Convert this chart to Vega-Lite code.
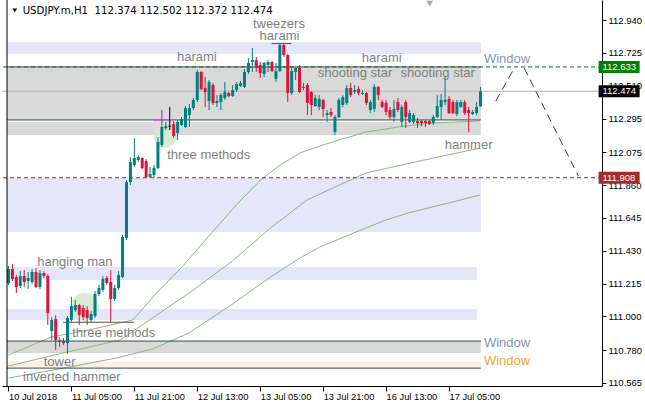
{
"$schema":"https://vega.github.io/schema/vega-lite/v6.json",
"width":600,"height":386,
"autosize":{"type":"none"},
"padding":{"left":2,"top":0,"right":43,"bottom":20},
"background":"#ffffff",
"config":{"view":{"stroke":null},"axis":{"labelOverlap":false,"labelBound":false,"labelFlush":false,"grid":false,"labelSeparation":0}},
"datasets":{
"zones":[
{"x1":-0.375,"x2":120.1,"p1":112.796,"p2":112.718,"k":"lav"},
{"x1":-0.375,"x2":120.1,"p1":112.633,"p2":112.286,"k":"gray"},
{"x1":-0.375,"x2":120.1,"p1":112.273,"p2":112.187,"k":"gray"},
{"x1":-0.375,"x2":120.1,"p1":111.906,"p2":111.553,"k":"lav"},
{"x1":-0.375,"x2":119.1,"p1":111.323,"p2":111.238,"k":"lav"},
{"x1":-0.375,"x2":119.1,"p1":111.049,"p2":110.977,"k":"lav"},
{"x1":-0.375,"x2":120.1,"p1":110.839,"p2":110.761,"k":"gray"},
{"x1":-0.375,"x2":120.1,"p1":110.708,"p2":110.662,"k":"linen"}
],
"blobs":[
{"i":39.4,"p":112.259,"k":"pink"},
{"i":39.9,"p":112.187,"k":"green"},
{"i":19.4,"p":111.062,"k":"green2"}
],
"ma":[
{"m":"a","i":0,"p":110.748},{"m":"a","i":10.9,"p":110.865},{"m":"a","i":21.6,"p":110.918},{"m":"a","i":31.6,"p":110.977},{"m":"a","i":37.9,"p":111.16},{"m":"a","i":44.1,"p":111.323},{"m":"a","i":51.6,"p":111.546},{"m":"a","i":59.1,"p":111.762},{"m":"a","i":64.1,"p":111.893},{"m":"a","i":69.1,"p":111.991},{"m":"a","i":74.1,"p":112.07},{"m":"a","i":79.1,"p":112.115},{"m":"a","i":84.1,"p":112.155},{"m":"a","i":90.9,"p":112.207},{"m":"a","i":99.1,"p":112.24},{"m":"a","i":107.4,"p":112.266},{"m":"a","i":119.9,"p":112.279},
{"m":"b","i":0,"p":110.676},{"m":"b","i":14.9,"p":110.767},{"m":"b","i":28.4,"p":110.846},{"m":"b","i":36.6,"p":110.99},{"m":"b","i":45.9,"p":111.153},{"m":"b","i":56.6,"p":111.356},{"m":"b","i":66.6,"p":111.579},{"m":"b","i":75.9,"p":111.762},{"m":"b","i":84.1,"p":111.86},{"m":"b","i":90.9,"p":111.939},{"m":"b","i":103.4,"p":112.011},{"m":"b","i":119.9,"p":112.102},
{"m":"c","i":0,"p":110.597},{"m":"c","i":14.1,"p":110.662},{"m":"c","i":27.4,"p":110.728},{"m":"c","i":36.6,"p":110.787},{"m":"c","i":45.9,"p":110.892},{"m":"c","i":56.6,"p":111.075},{"m":"c","i":66.6,"p":111.258},{"m":"c","i":74.1,"p":111.382},{"m":"c","i":79.1,"p":111.454},{"m":"c","i":88.4,"p":111.553},{"m":"c","i":95.9,"p":111.631},{"m":"c","i":101.6,"p":111.677},{"m":"c","i":114.9,"p":111.762},{"m":"c","i":119.9,"p":111.795}
],
"hlines":[{"p":112.474,"k":"bid"},{"p":112.633,"k":"ask"},{"p":111.908,"k":"lvl"}],
"segs":[
{"x1":-0.375,"x2":120.1,"p":112.633,"k":"zone"},
{"x1":-0.375,"x2":120.1,"p":112.286,"k":"zone"},
{"x1":-0.375,"x2":120.1,"p":110.839,"k":"zone"},
{"x1":-0.375,"x2":120.1,"p":110.662,"k":"zone"},
{"x1":66.9,"x2":71.9,"p":112.786,"k":"pat"},
{"x1":13.9,"x2":31.9,"p":110.962,"k":"pat"}
],
"proj":[
{"s":"a","i":123.9,"p":112.41},{"s":"a","i":128.6,"p":112.626},
{"s":"b","i":131.1,"p":112.626},{"s":"b","i":144.9,"p":111.919}
],
"candles":[
{"i":0,"o":111.219,"h":111.33,"l":111.206,"c":111.31,"d":"up"},
{"i":1,"o":111.31,"h":111.343,"l":111.232,"c":111.245,"d":"down"},
{"i":2,"o":111.258,"h":111.271,"l":111.153,"c":111.193,"d":"down"},
{"i":3,"o":111.199,"h":111.297,"l":111.186,"c":111.265,"d":"up"},
{"i":4,"o":111.265,"h":111.304,"l":111.193,"c":111.225,"d":"down"},
{"i":5,"o":111.232,"h":111.291,"l":111.18,"c":111.252,"d":"up"},
{"i":6,"o":111.225,"h":111.31,"l":111.212,"c":111.291,"d":"up"},
{"i":7,"o":111.291,"h":111.317,"l":111.186,"c":111.193,"d":"down"},
{"i":8,"o":111.193,"h":111.304,"l":111.18,"c":111.284,"d":"up"},
{"i":9,"o":111.284,"h":111.297,"l":111.252,"c":111.265,"d":"down"},
{"i":10,"o":111.265,"h":111.278,"l":110.944,"c":111.022,"d":"down"},
{"i":11,"o":110.905,"h":110.996,"l":110.846,"c":110.977,"d":"up"},
{"i":12,"o":110.983,"h":111.009,"l":110.78,"c":110.846,"d":"down"},
{"i":13,"o":110.833,"h":110.865,"l":110.8,"c":110.846,"d":"up"},
{"i":14,"o":110.839,"h":110.859,"l":110.813,"c":110.826,"d":"down"},
{"i":15,"o":110.826,"h":111.003,"l":110.754,"c":110.99,"d":"up"},
{"i":16,"o":110.977,"h":111.127,"l":110.964,"c":111.068,"d":"up"},
{"i":17,"o":111.042,"h":111.107,"l":111.029,"c":111.075,"d":"up"},
{"i":18,"o":111.075,"h":111.081,"l":110.944,"c":111.009,"d":"down"},
{"i":19,"o":111.055,"h":111.075,"l":110.977,"c":110.996,"d":"down"},
{"i":20,"o":111.042,"h":111.068,"l":110.944,"c":110.99,"d":"down"},
{"i":21,"o":110.977,"h":111.036,"l":110.964,"c":111.016,"d":"up"},
{"i":22,"o":111.003,"h":111.166,"l":110.99,"c":111.147,"d":"up"},
{"i":23,"o":111.147,"h":111.206,"l":111.134,"c":111.186,"d":"up"},
{"i":24,"o":111.173,"h":111.265,"l":111.16,"c":111.245,"d":"up"},
{"i":25,"o":111.252,"h":111.265,"l":111.206,"c":111.219,"d":"down"},
{"i":26,"o":111.225,"h":111.304,"l":110.964,"c":111.114,"d":"down"},
{"i":27,"o":111.114,"h":111.206,"l":111.101,"c":111.186,"d":"up"},
{"i":28,"o":111.186,"h":111.297,"l":111.173,"c":111.271,"d":"up"},
{"i":29,"o":111.258,"h":111.533,"l":111.252,"c":111.52,"d":"up"},
{"i":30,"o":111.513,"h":111.893,"l":111.5,"c":111.88,"d":"up"},
{"i":31,"o":111.88,"h":112.043,"l":111.86,"c":112.011,"d":"up"},
{"i":32,"o":111.991,"h":112.168,"l":111.978,"c":112.037,"d":"up"},
{"i":33,"o":112.024,"h":112.057,"l":112.011,"c":112.043,"d":"up"},
{"i":34,"o":112.037,"h":112.043,"l":111.965,"c":111.971,"d":"down"},
{"i":35,"o":112.017,"h":112.03,"l":111.906,"c":111.913,"d":"down"},
{"i":36,"o":111.913,"h":111.978,"l":111.906,"c":111.932,"d":"up"},
{"i":37,"o":111.926,"h":111.991,"l":111.906,"c":111.971,"d":"up"},
{"i":38,"o":111.971,"h":112.174,"l":111.965,"c":112.142,"d":"up"},
{"i":39,"o":112.122,"h":112.351,"l":112.109,"c":112.24,"d":"up"},
{"i":40,"o":112.233,"h":112.273,"l":112.22,"c":112.246,"d":"up"},
{"i":41,"o":112.248,"h":112.371,"l":112.22,"c":112.242,"d":"doji"},
{"i":42,"o":112.259,"h":112.279,"l":112.168,"c":112.181,"d":"down"},
{"i":43,"o":112.201,"h":112.286,"l":112.155,"c":112.273,"d":"up"},
{"i":44,"o":112.253,"h":112.305,"l":112.246,"c":112.292,"d":"up"},
{"i":45,"o":112.24,"h":112.377,"l":112.233,"c":112.364,"d":"up"},
{"i":46,"o":112.318,"h":112.39,"l":112.24,"c":112.364,"d":"up"},
{"i":47,"o":112.364,"h":112.43,"l":112.351,"c":112.417,"d":"up"},
{"i":48,"o":112.417,"h":112.613,"l":112.403,"c":112.6,"d":"up"},
{"i":49,"o":112.6,"h":112.606,"l":112.482,"c":112.489,"d":"down"},
{"i":50,"o":112.495,"h":112.567,"l":112.371,"c":112.469,"d":"down"},
{"i":51,"o":112.41,"h":112.547,"l":112.351,"c":112.534,"d":"up"},
{"i":52,"o":112.515,"h":112.528,"l":112.384,"c":112.397,"d":"down"},
{"i":53,"o":112.397,"h":112.449,"l":112.371,"c":112.41,"d":"up"},
{"i":54,"o":112.403,"h":112.462,"l":112.351,"c":112.449,"d":"up"},
{"i":55,"o":112.43,"h":112.534,"l":112.417,"c":112.469,"d":"up"},
{"i":56,"o":112.462,"h":112.469,"l":112.436,"c":112.443,"d":"down"},
{"i":57,"o":112.443,"h":112.515,"l":112.436,"c":112.482,"d":"up"},
{"i":58,"o":112.482,"h":112.534,"l":112.469,"c":112.521,"d":"up"},
{"i":59,"o":112.508,"h":112.541,"l":112.502,"c":112.528,"d":"up"},
{"i":60,"o":112.502,"h":112.619,"l":112.495,"c":112.6,"d":"up"},
{"i":61,"o":112.6,"h":112.691,"l":112.587,"c":112.659,"d":"up"},
{"i":62,"o":112.665,"h":112.757,"l":112.6,"c":112.678,"d":"up"},
{"i":63,"o":112.678,"h":112.698,"l":112.6,"c":112.626,"d":"down"},
{"i":64,"o":112.646,"h":112.665,"l":112.561,"c":112.593,"d":"down"},
{"i":65,"o":112.587,"h":112.665,"l":112.567,"c":112.659,"d":"up"},
{"i":66,"o":112.646,"h":112.678,"l":112.6,"c":112.665,"d":"up"},
{"i":67,"o":112.665,"h":112.672,"l":112.6,"c":112.606,"d":"down"},
{"i":68,"o":112.554,"h":112.659,"l":112.534,"c":112.606,"d":"up"},
{"i":69,"o":112.606,"h":112.79,"l":112.6,"c":112.776,"d":"up"},
{"i":70,"o":112.776,"h":112.79,"l":112.698,"c":112.711,"d":"down"},
{"i":71,"o":112.711,"h":112.718,"l":112.403,"c":112.462,"d":"down"},
{"i":72,"o":112.462,"h":112.633,"l":112.449,"c":112.606,"d":"up"},
{"i":73,"o":112.6,"h":112.633,"l":112.547,"c":112.626,"d":"up"},
{"i":74,"o":112.626,"h":112.646,"l":112.462,"c":112.469,"d":"down"},
{"i":75,"o":112.495,"h":112.528,"l":112.482,"c":112.502,"d":"up"},
{"i":76,"o":112.515,"h":112.528,"l":112.318,"c":112.397,"d":"down"},
{"i":77,"o":112.469,"h":112.475,"l":112.318,"c":112.384,"d":"down"},
{"i":78,"o":112.377,"h":112.449,"l":112.371,"c":112.43,"d":"up"},
{"i":79,"o":112.371,"h":112.449,"l":112.351,"c":112.423,"d":"up"},
{"i":80,"o":112.417,"h":112.423,"l":112.305,"c":112.358,"d":"down"},
{"i":81,"o":112.318,"h":112.351,"l":112.273,"c":112.331,"d":"up"},
{"i":82,"o":112.338,"h":112.364,"l":112.305,"c":112.318,"d":"down"},
{"i":83,"o":112.207,"h":112.318,"l":112.187,"c":112.305,"d":"up"},
{"i":84,"o":112.305,"h":112.43,"l":112.299,"c":112.417,"d":"up"},
{"i":85,"o":112.384,"h":112.449,"l":112.371,"c":112.436,"d":"up"},
{"i":86,"o":112.397,"h":112.515,"l":112.384,"c":112.495,"d":"up"},
{"i":87,"o":112.495,"h":112.528,"l":112.436,"c":112.449,"d":"down"},
{"i":88,"o":112.469,"h":112.515,"l":112.456,"c":112.482,"d":"up"},
{"i":89,"o":112.489,"h":112.508,"l":112.449,"c":112.462,"d":"down"},
{"i":90,"o":112.456,"h":112.482,"l":112.449,"c":112.462,"d":"up"},
{"i":91,"o":112.462,"h":112.469,"l":112.384,"c":112.397,"d":"down"},
{"i":92,"o":112.351,"h":112.417,"l":112.331,"c":112.403,"d":"up"},
{"i":93,"o":112.358,"h":112.521,"l":112.338,"c":112.502,"d":"up"},
{"i":94,"o":112.502,"h":112.508,"l":112.417,"c":112.449,"d":"down"},
{"i":95,"o":112.403,"h":112.417,"l":112.364,"c":112.371,"d":"down"},
{"i":96,"o":112.397,"h":112.417,"l":112.318,"c":112.338,"d":"down"},
{"i":97,"o":112.351,"h":112.371,"l":112.286,"c":112.305,"d":"down"},
{"i":98,"o":112.305,"h":112.417,"l":112.273,"c":112.358,"d":"up"},
{"i":99,"o":112.403,"h":112.43,"l":112.338,"c":112.351,"d":"down"},
{"i":100,"o":112.273,"h":112.384,"l":112.24,"c":112.371,"d":"up"},
{"i":101,"o":112.403,"h":112.417,"l":112.233,"c":112.305,"d":"down"},
{"i":102,"o":112.273,"h":112.351,"l":112.266,"c":112.331,"d":"up"},
{"i":103,"o":112.273,"h":112.331,"l":112.259,"c":112.318,"d":"up"},
{"i":104,"o":112.279,"h":112.299,"l":112.233,"c":112.266,"d":"down"},
{"i":105,"o":112.279,"h":112.286,"l":112.246,"c":112.266,"d":"down"},
{"i":106,"o":112.279,"h":112.286,"l":112.24,"c":112.266,"d":"down"},
{"i":107,"o":112.279,"h":112.286,"l":112.253,"c":112.259,"d":"down"},
{"i":108,"o":112.266,"h":112.318,"l":112.253,"c":112.305,"d":"up"},
{"i":109,"o":112.305,"h":112.449,"l":112.299,"c":112.377,"d":"up"},
{"i":110,"o":112.371,"h":112.456,"l":112.286,"c":112.417,"d":"up"},
{"i":111,"o":112.403,"h":112.567,"l":112.384,"c":112.417,"d":"up"},
{"i":112,"o":112.423,"h":112.443,"l":112.325,"c":112.331,"d":"down"},
{"i":113,"o":112.403,"h":112.417,"l":112.325,"c":112.331,"d":"down"},
{"i":114,"o":112.325,"h":112.417,"l":112.312,"c":112.403,"d":"up"},
{"i":115,"o":112.371,"h":112.417,"l":112.364,"c":112.403,"d":"up"},
{"i":116,"o":112.403,"h":112.417,"l":112.318,"c":112.331,"d":"down"},
{"i":117,"o":112.351,"h":112.371,"l":112.207,"c":112.331,"d":"down"},
{"i":118,"o":112.325,"h":112.351,"l":112.318,"c":112.338,"d":"up"},
{"i":119,"o":112.331,"h":112.403,"l":112.318,"c":112.371,"d":"up"},
{"i":120,"o":112.374,"h":112.502,"l":112.372,"c":112.474,"d":"up"}
],
"labels":[
{"i":68.75,"p":112.912,"t":"tweezers","k":"pat"},
{"i":68.9,"p":112.835,"t":"harami","k":"pat"},
{"i":47.9,"p":112.698,"t":"harami","k":"pat"},
{"i":94.9,"p":112.691,"t":"harami","k":"pat"},
{"i":88.1,"p":112.593,"t":"shooting star","k":"pat"},
{"i":109.1,"p":112.593,"t":"shooting star","k":"pat"},
{"i":50.9,"p":112.056,"t":"three methods","k":"pat"},
{"i":117.0,"p":112.122,"t":"hammer","k":"pat"},
{"i":16.9,"p":111.356,"t":"hanging man","k":"pat"},
{"i":26.75,"p":110.892,"t":"three methods","k":"pat"},
{"i":13.0,"p":110.702,"t":"tower","k":"pat"},
{"i":16.1,"p":110.604,"t":"inverted hammer","k":"pat"},
{"i":126.75,"p":112.685,"t":"Window","k":"win"},
{"i":126.75,"p":110.826,"t":"Window","k":"win"},
{"i":126.75,"p":110.708,"t":"Window","k":"win2"}
],
"title":[{"i":3.6,"p":113.002,"t":"USDJPY.m,H1 \u00a0112.374 112.502 112.372 112.474"}],
"markers":[{"i":1.6,"p":113.002,"k":"menu"},{"i":107.1,"p":113.047,"k":"shift"}],
"tags":[{"p":112.633,"t":"112.633","k":"ask"},{"p":112.474,"t":"112.474","k":"bid"},{"p":111.908,"t":"111.908","k":"lvl"}]
},
"resolve":{"scale":{"color":"independent"}},
"layer":[
{"data":{"name":"zones"},"mark":{"type":"rect"},
 "encoding":{
  "x":{"field":"x1","type":"quantitative","scale":{"domain":[-0.375,149.625],"nice":false,"zero":false},
   "axis":{"orient":"bottom","title":null,"grid":false,"values":[0,16,32,48,64,80,96,112],"tickCount":30,
    "labelExpr":"['10 Jul 2018','11 Jul 05:00','11 Jul 21:00','12 Jul 13:00','13 Jul 05:00','13 Jul 21:00','16 Jul 13:00','17 Jul 05:00'][round(datum.value/16)]",
    "labelAlign":"left","labelBaseline":"top","labelPadding":1,"tickSize":5,"tickColor":"#000","domainColor":"#000","labelColor":"#000",
    "labelFont":"Liberation Sans","labelFontSize":9.3,"labelFlush":false,"labelOverlap":false,"labelBound":false}},
  "x2":{"field":"x2"},
  "y":{"field":"p1","type":"quantitative","scale":{"domain":[110.545,113.071],"nice":false,"zero":false},
   "axis":{"orient":"right","title":null,"grid":false,"values":[110.565,110.78,111.0,111.215,111.43,111.645,111.86,112.075,112.295,112.51,112.725,112.94],"tickCount":30,
    "format":".3f","tickSize":4,"labelPadding":2,"tickColor":"#000","domainColor":"#000","labelColor":"#000",
    "labelFont":"Liberation Sans","labelFontSize":9.5,"labelFlush":false,"labelOverlap":false,"labelBound":false}},
  "y2":{"field":"p2"},
  "color":{"field":"k","type":"nominal","scale":{"domain":["lav","gray","linen"],"range":["#E6E6FA","#D9D9D9","#FAF0E6"]},"legend":null}
 }},
{"data":{"name":"blobs"},"transform":[{"filter":"datum.k=='pink'"}],"mark":{"type":"point","filled":true,"shape":"circle","size":450,"opacity":1,"color":"#F9C8F0"},
 "encoding":{"x":{"field":"i","type":"quantitative","title":null},"y":{"field":"p","type":"quantitative","title":null}}},
{"data":{"name":"blobs"},"transform":[{"filter":"datum.k=='green'"}],"mark":{"type":"point","filled":true,"shape":"circle","size":620,"opacity":0.85,"color":"#D4E6CF"},
 "encoding":{"x":{"field":"i","type":"quantitative","title":null},"y":{"field":"p","type":"quantitative","title":null}}},
{"data":{"name":"blobs"},"transform":[{"filter":"datum.k=='green2'"}],"mark":{"type":"point","filled":true,"shape":"circle","size":800,"opacity":0.85,"color":"#D4E6CF"},
 "encoding":{"x":{"field":"i","type":"quantitative","title":null},"y":{"field":"p","type":"quantitative","title":null}}},
{"data":{"name":"ma"},"mark":{"type":"line","color":"#86BB7E","strokeWidth":1},
 "encoding":{"x":{"field":"i","type":"quantitative","title":null},"y":{"field":"p","type":"quantitative","title":null},"detail":{"field":"m"}}},
{"data":{"name":"hlines"},"transform":[{"filter":"datum.k=='bid'"}],"mark":{"type":"rule","color":"#B4B4B4","strokeWidth":1},
 "encoding":{"y":{"field":"p","type":"quantitative","title":null}}},
{"data":{"name":"hlines"},"transform":[{"filter":"datum.k=='ask'"}],"mark":{"type":"rule","color":"#008000","strokeWidth":1,"strokeDash":[4,3]},
 "encoding":{"y":{"field":"p","type":"quantitative","title":null}}},
{"data":{"name":"hlines"},"transform":[{"filter":"datum.k=='lvl'"}],"mark":{"type":"rule","color":"#B22222","strokeWidth":1,"strokeDash":[4,3]},
 "encoding":{"y":{"field":"p","type":"quantitative","title":null}}},
{"data":{"name":"segs"},"transform":[{"filter":"datum.k=='zone'"}],"mark":{"type":"rule","color":"#2F4F4F","strokeWidth":1},
 "encoding":{"x":{"field":"x1","type":"quantitative","title":null},"x2":{"field":"x2"},"y":{"field":"p","type":"quantitative","title":null}}},
{"data":{"name":"segs"},"transform":[{"filter":"datum.k=='pat'"}],"mark":{"type":"rule","color":"#505050","strokeWidth":1},
 "encoding":{"x":{"field":"x1","type":"quantitative","title":null},"x2":{"field":"x2"},"y":{"field":"p","type":"quantitative","title":null}}},
{"data":{"name":"proj"},"mark":{"type":"line","color":"#404040","strokeWidth":1,"strokeDash":[8,5]},
 "encoding":{"x":{"field":"i","type":"quantitative","title":null},"y":{"field":"p","type":"quantitative","title":null},"detail":{"field":"s"}}},
{"data":{"name":"candles"},"mark":{"type":"rule","strokeWidth":1},
 "encoding":{"x":{"field":"i","type":"quantitative","title":null},"y":{"field":"l","type":"quantitative","title":null},"y2":{"field":"h"},
  "color":{"field":"d","type":"nominal","scale":{"domain":["up","down","doji"],"range":["#008080","#DC143C","#000000"]},"legend":null}}},
{"data":{"name":"candles"},"mark":{"type":"bar","size":3},
 "encoding":{"x":{"field":"i","type":"quantitative","title":null},"y":{"field":"o","type":"quantitative","title":null},"y2":{"field":"c"},
  "color":{"field":"d","type":"nominal","scale":{"domain":["up","down","doji"],"range":["#008080","#DC143C","#000000"]},"legend":null}}},
{"data":{"name":"labels"},"transform":[{"filter":"datum.k=='pat'"}],"mark":{"type":"text","font":"Liberation Sans","fontSize":13,"color":"#7F7F7F","align":"center","baseline":"middle"},
 "encoding":{"x":{"field":"i","type":"quantitative","title":null},"y":{"field":"p","type":"quantitative","title":null},"text":{"field":"t"}}},
{"data":{"name":"labels"},"transform":[{"filter":"datum.k=='win'"}],"mark":{"type":"text","font":"Liberation Sans","fontSize":13,"color":"#8594AE","align":"center","baseline":"middle"},
 "encoding":{"x":{"field":"i","type":"quantitative","title":null},"y":{"field":"p","type":"quantitative","title":null},"text":{"field":"t"}}},
{"data":{"name":"labels"},"transform":[{"filter":"datum.k=='win2'"}],"mark":{"type":"text","font":"Liberation Sans","fontSize":13,"color":"#EBA53A","align":"center","baseline":"middle"},
 "encoding":{"x":{"field":"i","type":"quantitative","title":null},"y":{"field":"p","type":"quantitative","title":null},"text":{"field":"t"}}},
{"data":{"name":"title"},"mark":{"type":"text","font":"DejaVu Sans","fontSize":10.2,"color":"#000000","align":"left","baseline":"middle"},
 "encoding":{"x":{"field":"i","type":"quantitative","title":null},"y":{"field":"p","type":"quantitative","title":null},"text":{"field":"t"}}},
{"data":{"name":"markers"},"transform":[{"filter":"datum.k=='menu'"}],"mark":{"type":"point","filled":true,"shape":"triangle-down","size":22,"opacity":1,"color":"#000000"},
 "encoding":{"x":{"field":"i","type":"quantitative","title":null},"y":{"field":"p","type":"quantitative","title":null}}},
{"data":{"name":"markers"},"transform":[{"filter":"datum.k=='shift'"}],"mark":{"type":"point","filled":true,"shape":"triangle-down","size":45,"opacity":1,"color":"#A8A8A8"},
 "encoding":{"x":{"field":"i","type":"quantitative","title":null},"y":{"field":"p","type":"quantitative","title":null}}},
{"data":{"name":"tags"},"mark":{"type":"tick","orient":"horizontal","size":41,"thickness":12,"opacity":1},
 "encoding":{"x":{"datum":155.25},"y":{"field":"p","type":"quantitative","title":null},
  "color":{"field":"k","type":"nominal","scale":{"domain":["ask","bid","lvl"],"range":["#008000","#000000","#A52A2A"]},"legend":null}}},
{"data":{"name":"tags"},"mark":{"type":"text","font":"Liberation Sans","fontSize":9.5,"color":"#FFFFFF","align":"left","baseline":"middle"},
 "encoding":{"x":{"datum":151.0},"y":{"field":"p","type":"quantitative","title":null},"text":{"field":"t"}}},
{"data":{"values":[{}]},"mark":{"type":"rule","color":"#000000","strokeWidth":1},
 "encoding":{"x":{"datum":-0.375}}}
]
}
